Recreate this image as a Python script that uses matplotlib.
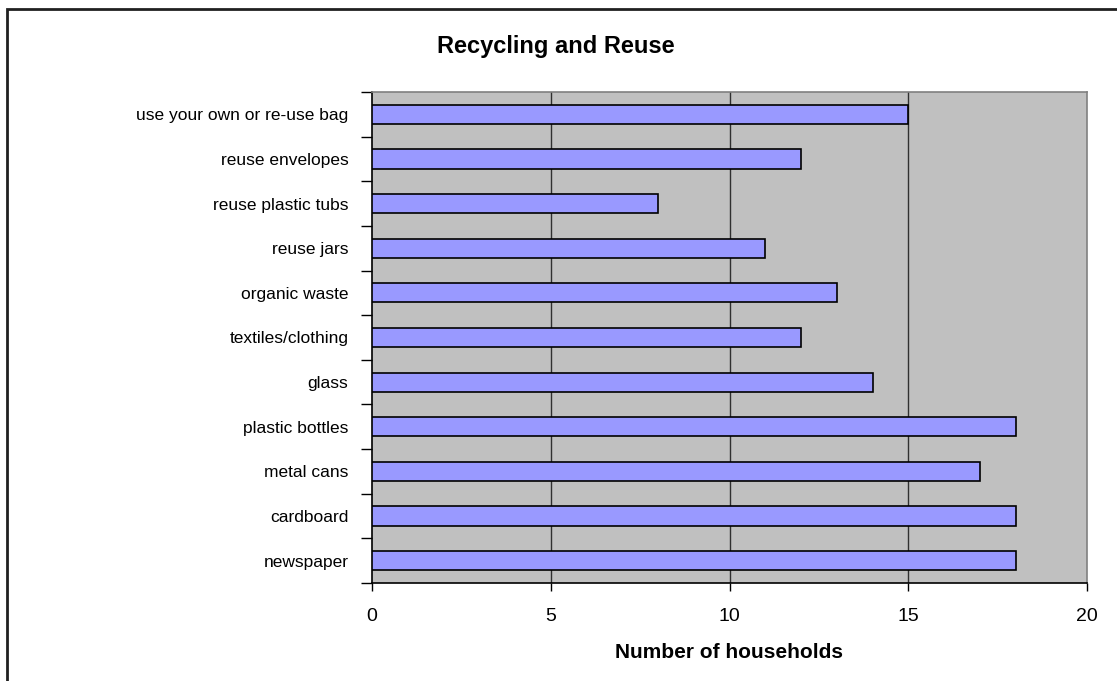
import numpy as np
import matplotlib
matplotlib.use("Agg")
from matplotlib import pyplot as plt
from matplotlib.patches import Rectangle

plt.rcParams.update({
  "font.family": ['Liberation Sans', 'DejaVu Sans'],
})

categories = ["newspaper", "cardboard", "metal cans", "plastic bottles", "glass",
              "textiles/clothing", "organic waste", "reuse jars",
              "reuse plastic tubs", "reuse envelopes", "use your own or re-use bag"]
households = [18, 18, 17, 18, 14, 12, 13, 11, 8, 12, 15]
x_ticks = [0, 5, 10, 15, 20]

fig = plt.figure(figsize=(11.17, 6.81), dpi=100)
ax = fig.add_axes([372/1117, 98/681, 715/1117, 491/681])
ax.set_facecolor('#C0C0C0')

y = np.arange(len(categories))
ax.barh(y, households, height=0.43, color='#9999FF', edgecolor='black',
        linewidth=1.2, zorder=3)

ax.set_xlim(0, 20)
ax.set_ylim(-0.5, len(categories) - 0.5)
ax.set_xticks(x_ticks)
ax.set_xticklabels([str(v) for v in x_ticks], fontsize=14)
ax.tick_params(axis='x', length=6, width=1, pad=12, direction='out')

ax.set_yticks(y)
ax.set_yticklabels(categories, fontsize=12.5)
ax.set_yticks(np.arange(-0.5, len(categories), 1.0), minor=True)
ax.tick_params(axis='y', which='major', length=0, pad=17)
ax.tick_params(axis='y', which='minor', length=8, width=1, direction='out')
ax.tick_params(axis='x', which='minor', length=0)

for v in x_ticks[1:-1]:
    ax.axvline(v, color='#303030', linewidth=1, zorder=1)

ax.spines['left'].set_color('black')
ax.spines['bottom'].set_color('black')
ax.spines['top'].set_color('#808080')
ax.spines['right'].set_color('#808080')
for s in ax.spines.values():
    s.set_linewidth(1.2)

fig.text(0.498, 1 - 47/681, "Recycling and Reuse", ha='center', va='center',
         fontsize=17, fontweight='bold')
fig.text(729/1117, 1 - 652/681, "Number of households", ha='center', va='center',
         fontsize=15, fontweight='bold')

fig.patches.append(Rectangle((7/1117, -0.1), 1.2, 1 - 9/681 + 0.1,
                             transform=fig.transFigure, fill=False,
                             edgecolor='#202020', linewidth=2))

fig.savefig('out.png', dpi=100)
